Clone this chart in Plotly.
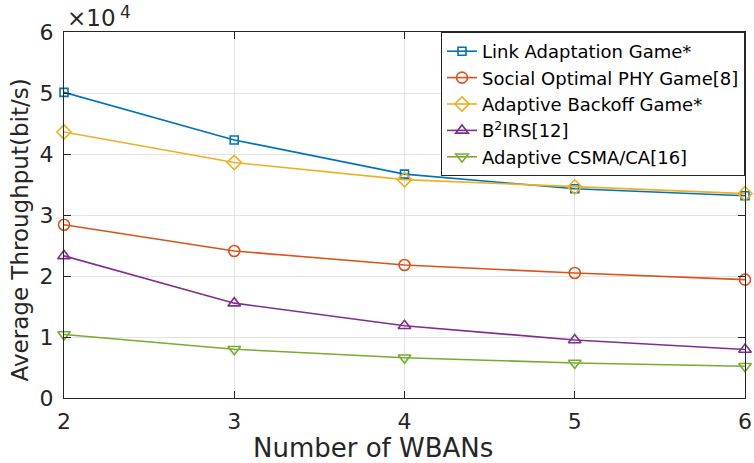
import plotly.graph_objects as go

# Number of WBANs on the x axis
wbans = [2, 3, 4, 5, 6]

# Average throughput (bit/s) for each scheme
link_adaptation = [50100, 42300, 36700, 34300, 33150]
social_optimal = [28400, 24100, 21800, 20500, 19400]
adaptive_backoff = [43600, 38600, 35800, 34600, 33500]
b2irs = [23300, 15550, 11850, 9500, 7950]
adaptive_csma = [10400, 8000, 6600, 5750, 5200]

series_names = [
    "Link Adaptation Game*",
    "Social Optimal PHY Game[8]",
    "Adaptive Backoff Game*",
    "B<sup>2</sup>IRS[12]",
    "Adaptive CSMA/CA[16]",
]
series_values = [link_adaptation, social_optimal, adaptive_backoff, b2irs, adaptive_csma]
colors = ["#0072BD", "#D95319", "#EDB120", "#7E2F8E", "#77AC30"]
symbols = ["square-open", "circle-open", "diamond-open", "triangle-up-open", "triangle-down-open"]
marker_sizes = [8, 11, 11, 11, 11]

y_tick_vals = [0, 10000, 20000, 30000, 40000, 50000, 60000]
y_tick_text = ["0", "1", "2", "3", "4", "5", "6"]

FONT = "DejaVu Sans, Verdana, sans-serif"
INK = "#262626"

fig = go.Figure()
for name, vals, col, sym, ms in zip(series_names, series_values, colors, symbols, marker_sizes):
    fig.add_trace(go.Scatter(
        x=wbans, y=vals, name=name, mode="lines+markers",
        line=dict(color=col, width=1.6),
        marker=dict(symbol=sym, size=ms, color=col, line=dict(color=col, width=1.6)),
        cliponaxis=False,
    ))

axis_common = dict(
    showline=True, linecolor=INK, linewidth=1, mirror="allticks",
    ticks="inside", ticklen=7, tickcolor=INK, tickwidth=1,
    showgrid=True, gridcolor="#e3e3e3", gridwidth=1,
    zeroline=False, ticklabeloverflow="allow",
    tickfont=dict(family=FONT, size=22, color=INK),
)

fig.update_xaxes(
    range=[2, 6], tickvals=wbans, ticktext=[str(v) for v in wbans],
    ticklabelstandoff=4,
    **axis_common,
)
fig.update_yaxes(
    range=[0, 60000], tickvals=y_tick_vals, ticktext=y_tick_text,
    ticklabelstandoff=5,
    **axis_common,
)

# Axis titles
fig.add_annotation(
    xref="paper", yref="paper", x=0.4535, y=-0.137, xanchor="center", yanchor="middle",
    text="Number of WBANs", showarrow=False,
    font=dict(family=FONT, size=26, color=INK),
)
fig.add_annotation(
    xref="paper", yref="paper", x=-0.064, y=0.459, xanchor="center", yanchor="middle",
    text="Average Throughput(bit/s)", showarrow=False, textangle=-90,
    font=dict(family=FONT, size=23, color=INK),
)

# Exponent marker for the y axis scale
fig.add_annotation(
    xref="paper", yref="paper", x=0.0, y=1.0, xanchor="left", yanchor="bottom",
    text="×10", showarrow=False, xshift=1, yshift=-1,
    font=dict(family=FONT, size=23, color=INK),
)
fig.add_annotation(
    xref="paper", yref="paper", x=0.0, y=1.0, xanchor="left", yanchor="bottom",
    text="4", showarrow=False, xshift=55, yshift=9, borderpad=0,
    font=dict(family=FONT, size=17, color=INK),
)

fig.update_layout(
    width=754, height=463,
    margin=dict(l=64, r=2, t=32, b=64.5),
    paper_bgcolor="white", plot_bgcolor="white",
    showlegend=True,
    legend=dict(
        x=1, y=1, xanchor="right", yanchor="top",
        bgcolor="white", bordercolor=INK, borderwidth=1,
        font=dict(family=FONT, size=18, color="#000000"),
        itemwidth=30, tracegroupgap=0,
    ),
)

fig.write_html("out.html")
